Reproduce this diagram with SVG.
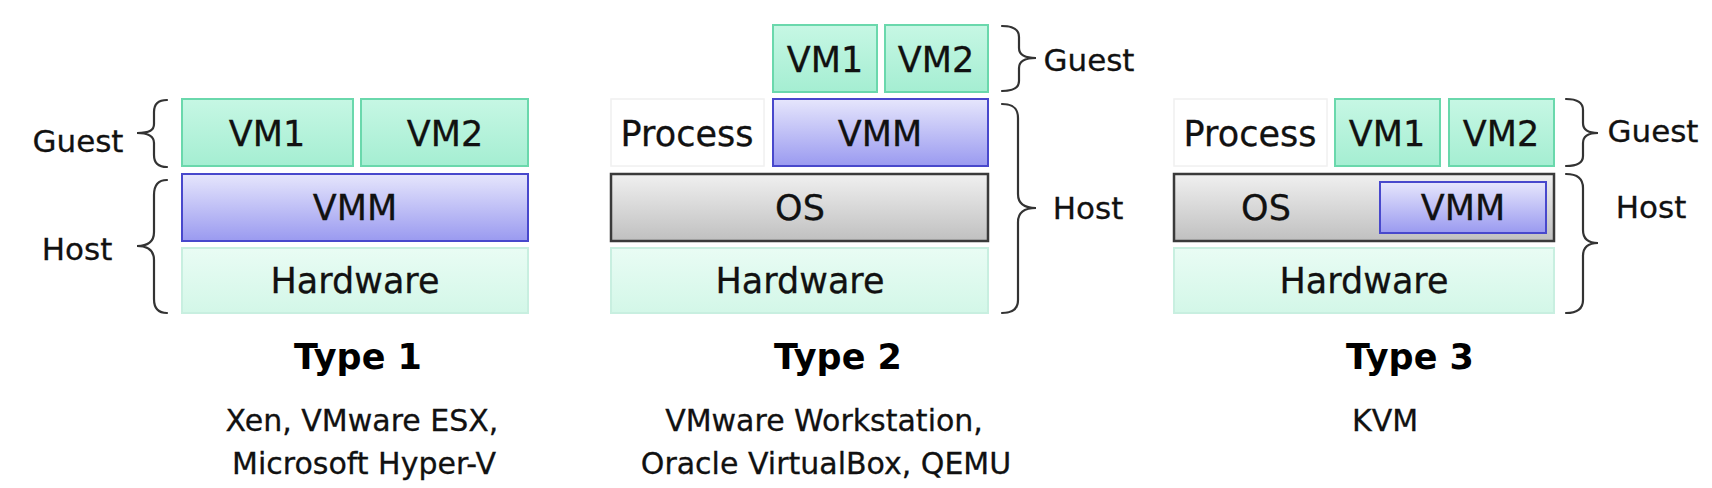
<svg xmlns="http://www.w3.org/2000/svg" width="1712" height="488" viewBox="0 0 1712 488">
<defs>
<linearGradient id="gVm" x1="0" y1="0" x2="0" y2="1"><stop offset="0" stop-color="#c6f7e4"/><stop offset="1" stop-color="#a5eed2"/></linearGradient>
<linearGradient id="gHw" x1="0" y1="0" x2="0" y2="1"><stop offset="0" stop-color="#e9fcf4"/><stop offset="1" stop-color="#d3f7e8"/></linearGradient>
<linearGradient id="gVmm" x1="0" y1="0" x2="0" y2="1"><stop offset="0" stop-color="#e6e6fc"/><stop offset="1" stop-color="#9a9af0"/></linearGradient>
<linearGradient id="gOs" x1="0" y1="0" x2="0" y2="1"><stop offset="0" stop-color="#f0f0f0"/><stop offset="1" stop-color="#c0c0c0"/></linearGradient>
</defs>
<style>
.vm{fill:url(#gVm);stroke:#6ad8ac;stroke-width:2}
.hw{fill:url(#gHw);stroke:#c8efe0;stroke-width:2}
.vmm{fill:url(#gVmm);stroke:#4848cc;stroke-width:2}
.os{fill:url(#gOs);stroke:#3a3a3a;stroke-width:2.5}
.proc{fill:#ffffff;stroke:#f0f0f0;stroke-width:1.5}
.lbl{font-family:"DejaVu Sans",Verdana,sans-serif;font-size:35px;fill:#111;text-anchor:middle;stroke:#111;stroke-width:0.3}
.side{font-family:"DejaVu Sans",Verdana,sans-serif;font-size:31px;fill:#111;text-anchor:middle;stroke:#111;stroke-width:0.3}
.title{font-family:"DejaVu Sans",Verdana,sans-serif;font-size:35px;font-weight:bold;fill:#000;text-anchor:middle}
.sub{font-family:"DejaVu Sans",Verdana,sans-serif;font-size:30px;fill:#111;text-anchor:middle;stroke:#111;stroke-width:0.3}
.brace{fill:none;stroke:#333;stroke-width:2.2;stroke-linecap:round}
</style>
<rect width="1712" height="488" fill="#ffffff"/>

<!-- Type 1 -->
<g id="t1-vm1"><rect class="vm" x="182" y="99" width="171" height="67"/><text class="lbl" x="267" y="146">VM1</text></g>
<g id="t1-vm2"><rect class="vm" x="361" y="99" width="167" height="67"/><text class="lbl" x="445" y="146">VM2</text></g>
<g id="t1-vmm"><rect class="vmm" x="182" y="174" width="346" height="67"/><text class="lbl" x="355" y="220">VMM</text></g>
<g id="t1-hw"><rect class="hw" x="182" y="248" width="346" height="65"/><text class="lbl" x="355" y="293">Hardware</text></g>
<g id="t1-guest"><text class="side" x="78" y="152">Guest</text></g>
<g id="t1-host"><text class="side" x="77" y="260">Host</text></g>
<g id="t1-title"><text class="title" x="358" y="369">Type 1</text></g>
<g id="t1-examples"><text class="sub" x="362" y="431">Xen, VMware ESX,</text><text class="sub" x="364" y="474">Microsoft Hyper-V</text></g>

<!-- Type 2 -->
<g id="t2-vm1"><rect class="vm" x="773" y="25" width="104" height="67"/><text class="lbl" x="825" y="72">VM1</text></g>
<g id="t2-vm2"><rect class="vm" x="885" y="25" width="103" height="67"/><text class="lbl" x="936" y="72">VM2</text></g>
<g id="t2-process"><rect class="proc" x="611" y="99" width="153" height="67"/><text class="lbl" x="687" y="146">Process</text></g>
<g id="t2-vmm"><rect class="vmm" x="773" y="99" width="215" height="67"/><text class="lbl" x="880" y="146">VMM</text></g>
<g id="t2-os"><rect class="os" x="611" y="174" width="377" height="67"/><text class="lbl" x="800" y="220">OS</text></g>
<g id="t2-hw"><rect class="hw" x="611" y="248" width="377" height="65"/><text class="lbl" x="800" y="293">Hardware</text></g>
<g id="t2-guest"><text class="side" x="1089" y="71">Guest</text></g>
<g id="t2-host"><text class="side" x="1088" y="219">Host</text></g>
<g id="t2-title"><text class="title" x="838" y="369">Type 2</text></g>
<g id="t2-examples"><text class="sub" x="824" y="431">VMware Workstation,</text><text class="sub" x="826" y="474">Oracle VirtualBox, QEMU</text></g>

<!-- Type 3 -->
<g id="t3-process"><rect class="proc" x="1174" y="99" width="153" height="67"/><text class="lbl" x="1250" y="146">Process</text></g>
<g id="t3-vm1"><rect class="vm" x="1335" y="99" width="105" height="67"/><text class="lbl" x="1387" y="146">VM1</text></g>
<g id="t3-vm2"><rect class="vm" x="1449" y="99" width="105" height="67"/><text class="lbl" x="1501" y="146">VM2</text></g>
<g id="t3-os"><rect class="os" x="1174" y="174" width="380" height="67"/><text class="lbl" x="1266" y="220">OS</text></g>
<g id="t3-vmm"><rect class="vmm" x="1380" y="182" width="166" height="51"/><text class="lbl" x="1463" y="220">VMM</text></g>
<g id="t3-hw"><rect class="hw" x="1174" y="248" width="380" height="65"/><text class="lbl" x="1364" y="293">Hardware</text></g>
<g id="t3-guest"><text class="side" x="1653" y="142">Guest</text></g>
<g id="t3-host"><text class="side" x="1651" y="218">Host</text></g>
<g id="t3-title"><text class="title" x="1410" y="369">Type 3</text></g>
<g id="t3-examples"><text class="sub" x="1385" y="431">KVM</text></g>

<g id="connectors">
<!-- Type 1 left braces -->
<path class="brace" d="M167 100 C158 100 154 104 154 112 L154 124 C154 130 150 133 137 133 C150 133 154 137 154 143 L154 155 C154 163 158 167 167 167"/>
<path class="brace" d="M167 180 C158 180 154 185 154 195 L154 232 C154 240 150 246 137 246 C150 246 154 252 154 260 L154 299 C154 308 158 313 167 313"/>
<!-- Type 2 right braces -->
<path class="brace" d="M1002 26 C1013 26 1019 29 1019 37 L1019 48 C1019 54 1023 58 1036 58 C1023 58 1019 62 1019 68 L1019 81 C1019 88 1013 91 1002 91"/>
<path class="brace" d="M1002 104 C1013 104 1018 108 1018 118 L1018 194 C1018 202 1023 208 1036 208 C1023 208 1018 214 1018 222 L1018 300 C1018 309 1013 313 1002 313"/>
<!-- Type 3 right braces -->
<path class="brace" d="M1566 99 C1577 99 1583 102 1583 110 L1583 123 C1583 129 1587 133 1598 133 C1587 133 1583 137 1583 143 L1583 156 C1583 163 1577 166 1566 166"/>
<path class="brace" d="M1566 174 C1577 174 1583 178 1583 188 L1583 230 C1583 238 1587 243 1598 243 C1587 243 1583 248 1583 256 L1583 300 C1583 309 1577 313 1566 313"/>
</g>
</svg>
